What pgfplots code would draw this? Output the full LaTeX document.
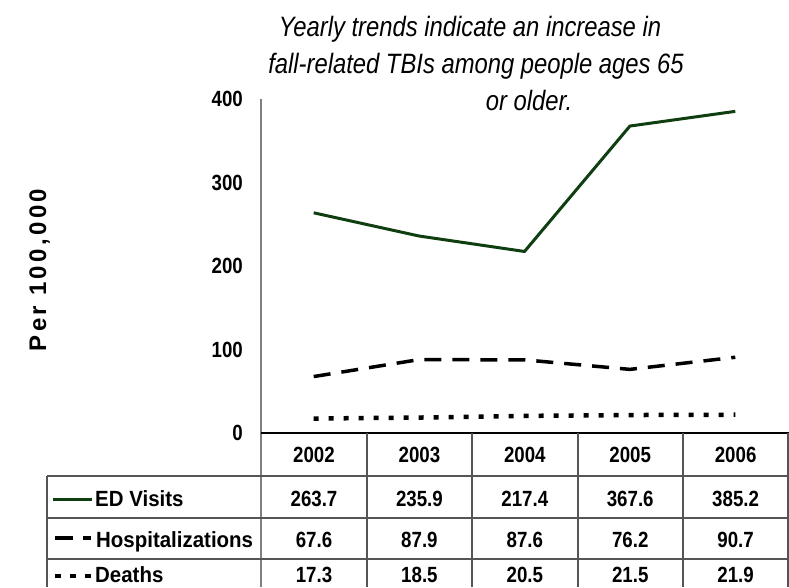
\documentclass[border=0pt]{standalone}
\usepackage{pgfplots}
\pgfplotsset{compat=1.18}
\usepackage{fontspec}
\setmainfont{Liberation Sans}[FakeStretch=0.85]
\newfontfamily\wfont{Liberation Sans}[FakeStretch=0.93]
\newfontfamily\ylabfont{Liberation Sans}[LetterSpace=14]
\definecolor{edgreen}{HTML}{0F3F10}
\definecolor{gridc}{HTML}{555555}
\newcommand{\tb}{\bfseries\fontsize{22}{26}\selectfont}
\newcommand{\tw}{\wfont\bfseries\fontsize{22}{26}\selectfont}
\begin{document}
\begin{tikzpicture}[x=1pt,y=1pt]
\useasboundingbox (0,0) rectangle (789,587);
\begin{axis}[
  at={(261pt,154pt)}, anchor=south west,
  scale only axis, width=527pt, height=334pt,
  xmin=-0.5, xmax=4.5, ymin=0, ymax=400,
  axis x line=none,
  axis y line*=left,
  y axis line style={-, draw=gray, line width=1.3pt},
  ytick={0,100,200,300,400},
  major tick length=0pt,
  /pgf/number format/assume math mode=true,
  yticklabel style={font=\tb, anchor=east, inner sep=0pt, xshift=-18pt},
  clip=false,
]
\addplot[color=edgreen, line width=3pt] coordinates {(0,263.7) (1,235.9) (2,217.4) (3,367.6) (4,385.2)};
\addplot[color=black, line width=3.5pt, dash pattern=on 17pt off 11pt] coordinates {(0,67.6) (1,87.9) (2,87.6) (3,76.2) (4,90.7)};
\addplot[color=black, line width=4.5pt, dash pattern=on 5pt off 10pt] coordinates {(0,17.3) (1,18.5) (2,20.5) (3,21.5) (4,21.9)};
\end{axis}
% axis line continuing through the table
\draw[gray, line width=1.3pt] (261,0) -- (261,154);
% table grid
\draw[black, line width=1.2pt] (261,154) -- (789,154);
\draw[gridc, line width=1.2pt] (47,111) -- (789,111);
\draw[gridc, line width=1.2pt] (47,69) -- (789,69);
\draw[gridc, line width=1.2pt] (47,28) -- (789,28);
\draw[gridc, line width=1.2pt] (47,0) -- (47,111);
\foreach \xx in {367,472,578,683,788} {\draw[gridc, line width=1.2pt] (\xx,0) -- (\xx,154);}
% header years
\foreach \yr [count=\i from 0] in {2002,2003,2004,2005,2006} {
  \node[anchor=base, inner sep=0pt] at (314+105.4*\i, 125) {\tb \yr};
}
% rows
\foreach \v [count=\i from 0] in {263.7,235.9,217.4,367.6,385.2} {
  \node[anchor=base, inner sep=0pt] at (314+105.4*\i, 81) {\tb \v};
}
\foreach \v [count=\i from 0] in {67.6,87.9,87.6,76.2,90.7} {
  \node[anchor=base, inner sep=0pt] at (314+105.4*\i, 40) {\tb \v};
}
\foreach \v [count=\i from 0] in {17.3,18.5,20.5,21.5,21.9} {
  \node[anchor=base, inner sep=0pt] at (314+105.4*\i, 5) {\tb \v};
}
% legend keys and labels
\draw[edgreen, line width=3pt] (53,88) -- (92,88);
\draw[black, line width=3.5pt] (55,49) -- (73,49);
\draw[black, line width=3.5pt] (83,49) -- (91,49);
\draw[black, line width=4.5pt, dash pattern=on 5.5pt off 9.5pt] (55,11) -- (92,11);
\node[anchor=base west, inner sep=0pt] at (95,81) {\tw ED Visits};
\node[anchor=base west, inner sep=0pt] at (96,40) {\tw Hospitalizations};
\node[anchor=base west, inner sep=0pt] at (95,5) {\tw Deaths};
% y label
\node[rotate=90, anchor=base, inner sep=0pt] at (46,317) {\ylabfont\bfseries\fontsize{24}{24}\selectfont Per 100,000};
% title
\node[anchor=base, inner sep=0pt] at (470,550) {\itshape\fontsize{28}{34}\selectfont Yearly trends indicate an increase in};
\node[anchor=base, inner sep=0pt] at (476,513) {\itshape\fontsize{28}{34}\selectfont fall-related TBIs among people ages 65};
\node[anchor=base, inner sep=0pt] at (529,476) {\itshape\fontsize{28}{34}\selectfont or older.};
\end{tikzpicture}
\end{document}
